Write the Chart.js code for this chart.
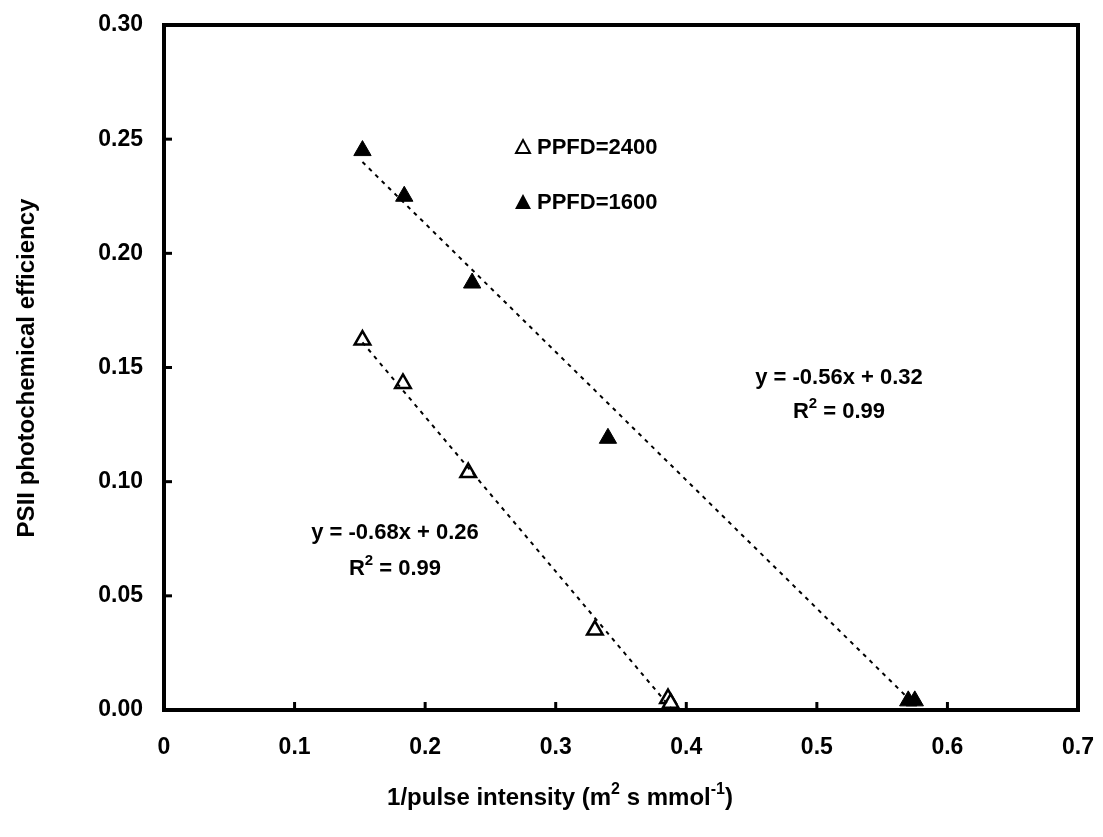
<!DOCTYPE html>
<html>
<head>
<meta charset="utf-8">
<script src="https://cdn.jsdelivr.net/npm/chart.js@4"></script>
<style>
  html, body { margin: 0; padding: 0; background: #fff; }
  #wrap { width: 1103px; height: 837px; }
</style>
</head>
<body>
<div id="wrap"><canvas id="myChart" width="1103" height="837"></canvas></div>
<script>
// data
const xHigh = [0.152, 0.183, 0.233, 0.330, 0.386, 0.388];   // PPFD=2400 (open)
const yHigh = [0.162, 0.143, 0.104, 0.035, 0.005, 0.003];
const xLow = [0.152, 0.184, 0.236, 0.340, 0.570, 0.575];    // PPFD=1600 (filled)
const yLow = [0.245, 0.225, 0.187, 0.119, 0.004, 0.004];

// trend line ends as drawn in the picture
const fitHighX = [0.152, 0.388];
const fitHighY = [0.161, 0.001];
const fitLowX = [0.152, 0.572];
const fitLowY = [0.240, 0.004];

const xTicks = [0, 0.1, 0.2, 0.3, 0.4, 0.5, 0.6, 0.7];
const yTicks = [0, 0.05, 0.10, 0.15, 0.20, 0.25, 0.30];

const FONT = '"Liberation Sans", Arial, sans-serif';

function pts(xs, ys) {
    return xs.map((x, i) => ({ x: x, y: ys[i] }));
}

// frame, inward ticks, legend, equations and axis titles
const decorPlugin = {
    id: 'decor',
    afterDatasetsDraw(chart) {
        const ctx = chart.ctx;
        const a = chart.chartArea;
        const xs = chart.scales.x;
        const ys = chart.scales.y;
        ctx.save();
        ctx.strokeStyle = '#000';
        ctx.lineWidth = 4;
        ctx.strokeRect(a.left, a.top, a.right - a.left, a.bottom - a.top);

        ctx.lineWidth = 3;
        xTicks.forEach(v => {
            const px = xs.getPixelForValue(v);
            ctx.beginPath();
            ctx.moveTo(px, a.bottom);
            ctx.lineTo(px, a.bottom - 8);
            ctx.stroke();
        });
        yTicks.forEach(v => {
            const py = ys.getPixelForValue(v);
            ctx.beginPath();
            ctx.moveTo(a.left, py);
            ctx.lineTo(a.left + 8, py);
            ctx.stroke();
        });

        // legend
        ctx.fillStyle = '#000';
        ctx.font = 'bold 22px ' + FONT;
        ctx.textBaseline = 'middle';
        ctx.textAlign = 'left';
        const lx = 523, ly1 = 147, ly2 = 202;
        ctx.lineWidth = 2;
        ctx.beginPath();
        ctx.moveTo(lx, ly1 - 7); ctx.lineTo(lx + 7, ly1 + 6); ctx.lineTo(lx - 7, ly1 + 6); ctx.closePath();
        ctx.stroke();
        ctx.beginPath();
        ctx.moveTo(lx, ly2 - 8); ctx.lineTo(lx + 8, ly2 + 7); ctx.lineTo(lx - 8, ly2 + 7); ctx.closePath();
        ctx.fill();
        ctx.fillText('PPFD=2400', 537, ly1 + 1);
        ctx.fillText('PPFD=1600', 537, ly2 + 1);

        // equations
        ctx.textAlign = 'center';
        ctx.fillText('y = -0.68x + 0.26', 395, 533);
        drawR2(ctx, 395, 567);
        ctx.fillText('y = -0.56x + 0.32', 839, 378);
        drawR2(ctx, 839, 410);

        // x title with superscripts
        drawParts(ctx, [['1/pulse intensity (m', 0], ['2', 1], [' s mmol', 0], ['-1', 1], [')', 0]], 560, 805, 24);

        // y title
        ctx.translate(27, 368);
        ctx.rotate(-Math.PI / 2);
        ctx.font = 'bold 24px ' + FONT;
        ctx.textAlign = 'center';
        ctx.textBaseline = 'middle';
        ctx.fillText('PSII photochemical efficiency', 0, 0);
        ctx.restore();
    }
};

function drawR2(ctx, cx, cy) {
    drawParts(ctx, [['R', 0], ['2', 1], [' = 0.99', 0]], cx, cy + 8, 22);
}

// draw text pieces centred on cx, baseline at by; flag 1 = superscript
function drawParts(ctx, parts, cx, by, size) {
    ctx.save();
    ctx.textBaseline = 'alphabetic';
    ctx.textAlign = 'left';
    const big = 'bold ' + size + 'px ' + FONT;
    const small = 'bold ' + Math.round(size * 0.68) + 'px ' + FONT;
    let total = 0;
    parts.forEach(p => {
        ctx.font = p[1] ? small : big;
        total += ctx.measureText(p[0]).width;
    });
    let x = cx - total / 2;
    parts.forEach(p => {
        ctx.font = p[1] ? small : big;
        ctx.fillText(p[0], x, p[1] ? by - size * 0.45 : by);
        x += ctx.measureText(p[0]).width;
    });
    ctx.restore();
}

const ctx = document.getElementById('myChart').getContext('2d');
const myChart = new Chart(ctx, {
    type: 'scatter',
    data: {
        datasets: [
            {
                label: 'fit 2400',
                data: pts(fitHighX, fitHighY),
                showLine: true,
                borderColor: '#000',
                borderWidth: 2,
                borderDash: [4, 5],
                pointRadius: 0
            },
            {
                label: 'fit 1600',
                data: pts(fitLowX, fitLowY),
                showLine: true,
                borderColor: '#000',
                borderWidth: 2,
                borderDash: [4, 5],
                pointRadius: 0
            },
            {
                label: 'PPFD=2400',
                data: pts(xHigh, yHigh),
                pointStyle: 'triangle',
                pointRadius: 9,
                backgroundColor: '#fff',
                borderColor: '#000',
                borderWidth: 2.5
            },
            {
                label: 'PPFD=1600',
                data: pts(xLow, yLow),
                pointStyle: 'triangle',
                pointRadius: 10,
                backgroundColor: '#000',
                borderColor: '#000',
                borderWidth: 1
            }
        ]
    },
    options: {
        responsive: false,
        animation: false,
        layout: { padding: { top: 25, right: 25, left: 0, bottom: 0 } },
        plugins: {
            legend: { display: false },
            tooltip: { enabled: false }
        },
        scales: {
            x: {
                type: 'linear',
                min: 0,
                max: 0.7,
                afterFit: s => { s.height = 127; s.paddingLeft = 0; s.paddingRight = 0; },
                afterBuildTicks: s => { s.ticks = xTicks.map(v => ({ value: v })); },
                grid: { display: false, drawTicks: false },
                border: { display: false },
                ticks: {
                    color: '#000',
                    padding: 24,
                    maxRotation: 0,
                    font: { family: FONT, weight: 'bold', size: 23 },
                    callback: v => v === 0 ? '0' : v.toFixed(1)
                }
            },
            y: {
                type: 'linear',
                min: 0,
                max: 0.3,
                afterFit: s => { s.width = 164; s.paddingTop = 0; s.paddingBottom = 0; },
                afterBuildTicks: s => { s.ticks = yTicks.map(v => ({ value: v })); },
                grid: { display: false, drawTicks: false },
                border: { display: false },
                ticks: {
                    color: '#000',
                    padding: 21,
                    font: { family: FONT, weight: 'bold', size: 23 },
                    callback: v => v.toFixed(2)
                }
            }
        }
    },
    plugins: [decorPlugin]
});
</script>
</body>
</html>
